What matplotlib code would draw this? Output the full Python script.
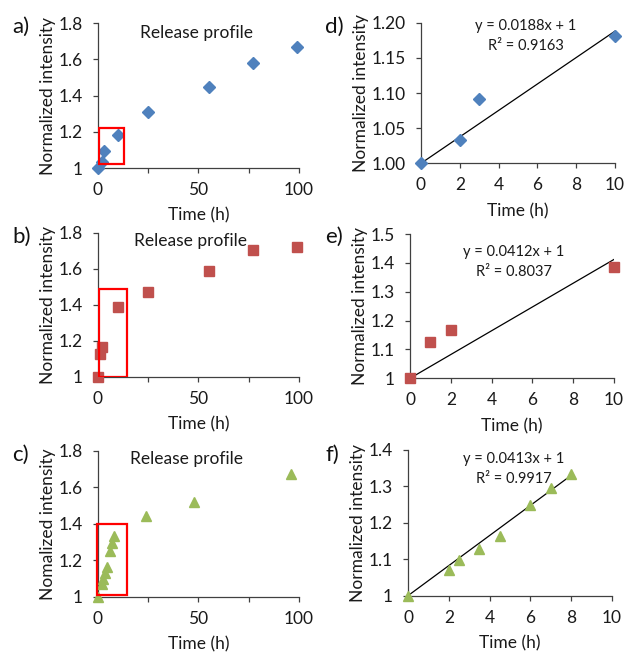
import matplotlib
matplotlib.use("Agg")
import matplotlib.pyplot as plt
from matplotlib.patches import Rectangle
from matplotlib.ticker import FixedLocator, FuncFormatter

plt.rcParams['font.family'] = ['Lato', 'DejaVu Sans']

# ---- data -------------------------------------------------------------
time_a = [0, 2, 3, 10, 25, 55, 77, 99]
int_a = [1.000, 1.033, 1.092, 1.181, 1.307, 1.445, 1.578, 1.665]

time_b = [0, 1, 2, 10, 25, 55, 77, 99]
int_b = [1.000, 1.127, 1.167, 1.385, 1.473, 1.588, 1.704, 1.718]

time_c = [0, 2, 2.5, 3.5, 4.5, 6, 7, 8, 24, 48, 96]
int_c = [1.000, 1.070, 1.097, 1.128, 1.165, 1.250, 1.295, 1.335, 1.443, 1.520, 1.672]

time_d = [0, 2, 3, 10]
int_d = [1.000, 1.033, 1.092, 1.181]

time_e = [0, 1, 2, 10]
int_e = [1.000, 1.127, 1.167, 1.385]

time_f = [0, 2, 2.5, 3.5, 4.5, 6, 7, 8]
int_f = [1.000, 1.070, 1.097, 1.128, 1.165, 1.250, 1.295, 1.335]

slope_d, slope_e, slope_f = 0.0188, 0.0412, 0.0413
r2_d, r2_e, r2_f = 0.9163, 0.8037, 0.9917

BLUE, RED, GREEN = '#4F81BD', '#C0504D', '#9BBB59'

fig = plt.figure(figsize=(6.26, 6.52), dpi=100)

# axes rectangles in figure fractions
ax_a = fig.add_axes([0.1565, 0.7423, 0.3211, 0.2224])
ax_b = fig.add_axes([0.1565, 0.4222, 0.3211, 0.2209])
ax_c = fig.add_axes([0.1565, 0.0849, 0.3211, 0.2235])
ax_d = fig.add_axes([0.6725, 0.7495, 0.3099, 0.2157])
ax_e = fig.add_axes([0.6550, 0.4198, 0.3259, 0.2213])
ax_f = fig.add_axes([0.6518, 0.0864, 0.3259, 0.2235])

TICK_FS = 12.5
LABEL_FS = 12.5
INK = '#1a1a1a'


def style(ax, xticks, yticks, xfmt, yfmt, ylabel):
    for s in ('top', 'right'):
        ax.spines[s].set_visible(False)
    for s in ('left', 'bottom'):
        ax.spines[s].set_color('#404040')
        ax.spines[s].set_linewidth(0.9)
    ax.set_xlim(xticks[0], xticks[-1])
    ax.set_ylim(yticks[0], yticks[-1])
    ax.xaxis.set_major_locator(FixedLocator(xticks))
    ax.yaxis.set_major_locator(FixedLocator(yticks))
    ax.xaxis.set_major_formatter(FuncFormatter(xfmt))
    ax.yaxis.set_major_formatter(FuncFormatter(yfmt))
    ax.tick_params(direction='out', length=3.5, width=0.9, color='#404040',
                   labelsize=TICK_FS, labelcolor=INK)
    ax.tick_params(axis='x', pad=6.5)
    ax.tick_params(axis='y', pad=7.5)
    ax.set_xlabel('Time (h)', fontsize=LABEL_FS, color=INK, labelpad=7)
    ax.set_ylabel(ylabel, fontsize=LABEL_FS, color=INK, labelpad=1.5)


def fmt_long(v, pos):
    return '' if v in (25, 75) else '%g' % v


def fmt_g(v, pos):
    return '%g' % round(v, 3)


def fmt_2f(v, pos):
    return '%.2f' % v


long_x = [0, 25, 50, 75, 100]
short_x = [0, 2, 4, 6, 8, 10]
y_long = [1.0, 1.2, 1.4, 1.6, 1.8]

# ---- release profiles -------------------------------------------------
style(ax_a, long_x, y_long, fmt_long, fmt_g, 'Normalized intensity')
ax_a.plot(time_a, int_a, ls='none', marker='D', ms=5.8, color=BLUE, clip_on=False, zorder=3)
ax_a.add_patch(Rectangle((0.6, 1.022), 12.4, 0.198, fill=False, ec='#FF0000', lw=1.6, zorder=4))
ax_a.text(49, 1.79, 'Release profile', ha='center', va='top', fontsize=12.5, color=INK)

style(ax_b, long_x, y_long, fmt_long, fmt_g, 'Normalized intensity')
ax_b.plot(time_b, int_b, ls='none', marker='s', ms=6.5, color=RED, clip_on=False, zorder=3)
ax_b.add_patch(Rectangle((0.6, 1.0), 14.0, 0.49, fill=False, ec='#FF0000', lw=1.6, zorder=4))
ax_b.text(46, 1.80, 'Release profile', ha='center', va='top', fontsize=12.5, color=INK)

style(ax_c, long_x, y_long, fmt_long, fmt_g, 'Nomalized intensity')
ax_c.plot(time_c, int_c, ls='none', marker='^', ms=7.5, color=GREEN, clip_on=False, zorder=3)
ax_c.add_patch(Rectangle((-0.4, 1.01), 15.0, 0.387, fill=False, ec='#FF0000', lw=1.6,
                         zorder=4, clip_on=False))
ax_c.text(44, 1.80, 'Release profile', ha='center', va='top', fontsize=12.5, color=INK)

# ---- early-time linear fits ------------------------------------------
def fit(ax, t, y, slope, r2, tmax, color, marker, ms, tx, ty, dy):
    ax.plot([0, tmax], [1, 1 + slope * tmax], color='black', lw=0.9, zorder=2)
    ax.plot(t, y, ls='none', marker=marker, ms=ms, color=color, clip_on=False, zorder=3)
    ax.text(tx, ty, 'y = %gx + 1' % slope, ha='center', va='center', fontsize=10.5, color=INK)
    ax.text(tx, ty - dy, 'R² = %.4f' % r2, ha='center', va='center', fontsize=10.5, color=INK)


style(ax_d, short_x, [1.00, 1.05, 1.10, 1.15, 1.20], fmt_g, fmt_2f, 'Normalized intensity')
fit(ax_d, time_d, int_d, slope_d, r2_d, 10, BLUE, 'D', 5.8, 5.4, 1.195, 0.028)

style(ax_e, short_x, [1.0, 1.1, 1.2, 1.3, 1.4, 1.5], fmt_g, fmt_g, 'Normalized intensity')
fit(ax_e, time_e, int_e, slope_e, r2_e, 10, RED, 's', 6.5, 5.1, 1.438, 0.068)

style(ax_f, short_x, [1.0, 1.1, 1.2, 1.3, 1.4], fmt_g, fmt_g, 'Normalized intensity')
fit(ax_f, time_f, int_f, slope_f, r2_f, 8, GREEN, '^', 7.5, 5.2, 1.375, 0.054)

# ---- panel letters -----------------------------------------------------
for lbl, x, y in [('a)', 12, 33), ('b)', 12, 243), ('c)', 12, 461),
                  ('d)', 325, 33), ('e)', 325, 243), ('f)', 325, 461)]:
    fig.text(x / 626, 1 - y / 652, lbl, fontsize=16, color='#111111', ha='left', va='baseline')

fig.savefig('out.png', dpi=100)
